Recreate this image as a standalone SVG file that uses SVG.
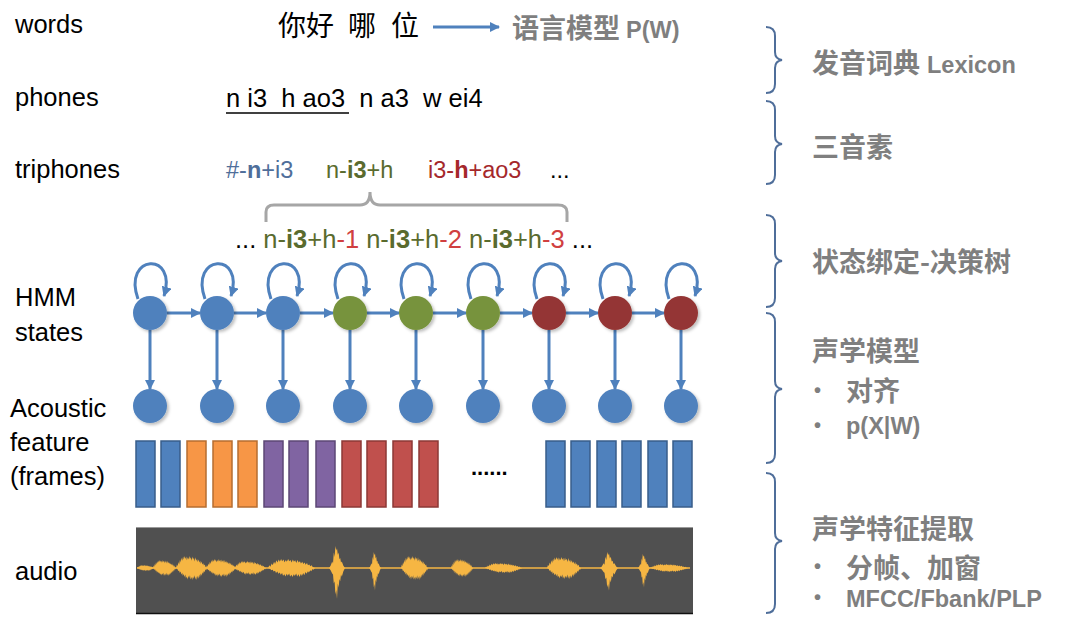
<svg xmlns="http://www.w3.org/2000/svg" width="1080" height="626" viewBox="0 0 1080 626">
<style>
.lbl{font-family:"Liberation Sans",Arial,sans-serif;font-size:25.5px;fill:#000}
.cjk{font-family:"Noto Sans CJK SC","Liberation Sans",sans-serif}
.rt{font-family:"Noto Sans CJK SC","Liberation Sans",sans-serif;font-size:27px;font-weight:bold;fill:#7f7f7f}
.rs{font-family:"Liberation Sans",Arial,sans-serif;font-size:23.5px;font-weight:bold;fill:#7f7f7f}
.bul{font-family:"Liberation Sans",Arial,sans-serif;font-size:20px;font-weight:bold;fill:#7f7f7f}
.arr{stroke:#4f81bd;stroke-width:3;fill:none;marker-end:url(#ah)}
.brace{stroke:#4f6e9a;stroke-width:2;fill:none}
.fb{fill:#4f81bd;stroke:#385d8a;stroke-width:1.5}
.fo{fill:#f79646;stroke:#b66d31;stroke-width:1.5}
.fp{fill:#8064a2;stroke:#5c4776;stroke-width:1.5}
.fr{fill:#c0504d;stroke:#8c3836;stroke-width:1.5}
.wav{fill:#f6b643}
.blue{fill:#4f6e9a}.green{fill:#5a6b2e}.red{fill:#a5282b}.red2{fill:#d04040}
</style>
<defs>
<marker id="ah" viewBox="0 0 10 10" refX="9" refY="5" markerWidth="3.4" markerHeight="3.4" orient="auto" markerUnits="strokeWidth">
<path d="M0,0 L10,5 L0,10 z" fill="#4f81bd"/>
</marker>
<filter id="sh" x="-30%" y="-30%" width="160%" height="160%">
<feDropShadow dx="2" dy="2" stdDeviation="1.5" flood-color="#000" flood-opacity="0.25"/>
</filter>
<path id="blobA" d="M0,0 L3,-0.3 5,-0.15 8,-0.5 10,-0.3 13,-0.7 15,-0.45 18,-0.85 20,-0.6 23,-0.95 25,-0.7 28,-1 30,-0.75 33,-0.95 35,-0.65 38,-0.9 40,-0.7 43,-1 45,-0.75 48,-0.9 50,-0.6 53,-0.95 55,-0.7 58,-0.85 60,-0.55 63,-0.9 65,-0.6 68,-0.75 70,-0.5 73,-0.7 75,-0.45 78,-0.6 80,-0.35 83,-0.55 85,-0.3 88,-0.4 90,-0.2 93,-0.3 95,-0.1 100,0 97,0.2 95,0.1 92,0.35 90,0.25 87,0.5 85,0.35 82,0.65 80,0.45 77,0.8 75,0.55 72,0.9 70,0.65 67,1 65,0.7 62,0.95 60,0.6 57,0.9 55,0.7 52,1 50,0.75 47,0.95 45,0.6 42,0.85 40,0.65 37,0.95 35,0.7 32,0.85 30,0.55 27,0.75 25,0.5 22,0.65 20,0.4 17,0.55 15,0.3 12,0.4 10,0.2 7,0.25 5,0.1 Z"/>
<path id="spikeB" d="M0,0 L10,-0.1 20,-0.3 25,-0.2 30,-0.7 35,-0.5 40,-1 45,-0.8 50,-0.9 55,-0.6 60,-0.7 65,-0.4 70,-0.45 75,-0.25 80,-0.3 90,-0.1 100,0 90,0.15 80,0.4 75,0.3 70,0.6 65,0.5 60,0.9 55,0.7 50,1.4 45,1 40,1.2 35,0.6 30,0.7 25,0.3 20,0.25 10,0.1 Z"/>
</defs>
<rect width="1080" height="626" fill="#fff"/>

<g id="left-labels">
<text class="lbl" x="15" y="33">words</text>
<text class="lbl" x="15" y="106">phones</text>
<text class="lbl" x="15" y="178">triphones</text>
<text class="lbl" x="15" y="306">HMM</text>
<text class="lbl" x="15" y="341">states</text>
<text class="lbl" x="10" y="417">Acoustic</text>
<text class="lbl" x="10" y="451">feature</text>
<text class="lbl" x="10" y="485">(frames)</text>
<text class="lbl" x="15" y="580">audio</text>
</g>

<g id="words">
<text class="cjk" x="278" y="36" font-size="28" fill="#000">你好 <tspan x="348">哪</tspan><tspan x="391">位</tspan></text>
<text class="rt" x="512" y="38" font-size="28">语言模型<tspan class="rs" font-size="24" dx="6">P(W)</tspan></text>
</g>

<g id="phones">
<text class="lbl" x="226" y="107" font-size="23.5" xml:space="preserve">n i3  h ao3  n a3  w ei4</text>
<line x1="226" y1="113" x2="349" y2="113" stroke="#000" stroke-width="1.5"/>
</g>

<g id="triphones" font-family="Liberation Sans,Arial,sans-serif" font-size="23.5">
<text x="226" y="178" class="blue">#-<tspan font-weight="bold">n</tspan>+i3</text>
<text x="326" y="178" class="green">n-<tspan font-weight="bold">i3</tspan>+h</text>
<text x="428" y="178" class="red">i3-<tspan font-weight="bold">h</tspan>+ao3</text>
<text x="550" y="178" fill="#000">...</text>
</g>

<g id="state-brace">
<path d="M266,222 L266,212 Q266,205 274,205 L360,205 Q370,205 370,192 Q370,205 380,205 L558,205 Q567,205 567,212 L567,222" stroke="#a6a6a6" stroke-width="3" fill="none"/>
</g>

<g id="tied-states" font-family="Liberation Sans,Arial,sans-serif" font-size="25.5">
<text x="235" y="248" fill="#000">... <tspan class="green">n-<tspan font-weight="bold">i3</tspan>+h</tspan><tspan class="red2">-1</tspan> <tspan class="green">n-<tspan font-weight="bold">i3</tspan>+h</tspan><tspan class="red2">-2</tspan> <tspan class="green">n-<tspan font-weight="bold">i3</tspan>+h</tspan><tspan class="red2">-3</tspan> ...</text>
</g>

<g id="connectors">
<path class="arr" d="M433,27 L499,27" stroke-width="2.5"/>
<path class="arr" d="M138,299 C122,254 178,251 164,296"/>
<path class="arr" d="M205,299 C189,254 245,251 231,296"/>
<path class="arr" d="M271,299 C255,254 311,251 297,296"/>
<path class="arr" d="M338,299 C322,254 378,251 364,296"/>
<path class="arr" d="M404,299 C388,254 444,251 430,296"/>
<path class="arr" d="M471,299 C455,254 511,251 497,296"/>
<path class="arr" d="M537,299 C521,254 577,251 563,296"/>
<path class="arr" d="M603,299 C587,254 643,251 629,296"/>
<path class="arr" d="M669,299 C653,254 709,251 695,296"/>
<path class="arr" d="M167,313 L200,313"/>
<path class="arr" d="M234,313 L266,313"/>
<path class="arr" d="M300,313 L333,313"/>
<path class="arr" d="M367,313 L399,313"/>
<path class="arr" d="M433,313 L466,313"/>
<path class="arr" d="M500,313 L532,313"/>
<path class="arr" d="M566,313 L598,313"/>
<path class="arr" d="M632,313 L664,313"/>
<path class="arr" d="M150,330 L150,389"/>
<path class="arr" d="M217,330 L217,389"/>
<path class="arr" d="M283,330 L283,389"/>
<path class="arr" d="M350,330 L350,389"/>
<path class="arr" d="M416,330 L416,389"/>
<path class="arr" d="M483,330 L483,389"/>
<path class="arr" d="M549,330 L549,389"/>
<path class="arr" d="M615,330 L615,389"/>
<path class="arr" d="M681,330 L681,389"/>
</g>

<g id="hmm-states" filter="url(#sh)">
<circle id="s1" cx="150" cy="313" r="17" fill="#4f81bd"/>
<circle id="s2" cx="217" cy="313" r="17" fill="#4f81bd"/>
<circle id="s3" cx="283" cy="313" r="17" fill="#4f81bd"/>
<circle id="s4" cx="350" cy="313" r="17" fill="#77933c"/>
<circle id="s5" cx="416" cy="313" r="17" fill="#77933c"/>
<circle id="s6" cx="483" cy="313" r="17" fill="#77933c"/>
<circle id="s7" cx="549" cy="313" r="17" fill="#943634"/>
<circle id="s8" cx="615" cy="313" r="17" fill="#943634"/>
<circle id="s9" cx="681" cy="313" r="17" fill="#943634"/>
</g>

<g id="observations" filter="url(#sh)" fill="#4f81bd">
<circle cx="150" cy="406" r="17"/>
<circle cx="217" cy="406" r="17"/>
<circle cx="283" cy="406" r="17"/>
<circle cx="350" cy="406" r="17"/>
<circle cx="416" cy="406" r="17"/>
<circle cx="483" cy="406" r="17"/>
<circle cx="549" cy="406" r="17"/>
<circle cx="615" cy="406" r="17"/>
<circle cx="681" cy="406" r="17"/>
</g>

<g id="frames">
<rect class="fb" x="136" y="441" width="19" height="66"/>
<rect class="fb" x="161" y="441" width="19" height="66"/>
<rect class="fo" x="187" y="441" width="19" height="66"/>
<rect class="fo" x="213" y="441" width="19" height="66"/>
<rect class="fo" x="238" y="441" width="19" height="66"/>
<rect class="fp" x="264" y="441" width="19" height="66"/>
<rect class="fp" x="289" y="441" width="19" height="66"/>
<rect class="fp" x="316" y="441" width="19" height="66"/>
<rect class="fr" x="342" y="441" width="19" height="66"/>
<rect class="fr" x="367" y="441" width="19" height="66"/>
<rect class="fr" x="393" y="441" width="19" height="66"/>
<rect class="fr" x="419" y="441" width="19" height="66"/>
<text x="471" y="475" font-family="Liberation Sans,Arial,sans-serif" font-size="22" font-weight="bold" fill="#000">......</text>
<rect class="fb" x="546" y="441" width="19" height="66"/>
<rect class="fb" x="571" y="441" width="19" height="66"/>
<rect class="fb" x="597" y="441" width="19" height="66"/>
<rect class="fb" x="622" y="441" width="19" height="66"/>
<rect class="fb" x="648" y="441" width="19" height="66"/>
<rect class="fb" x="673" y="441" width="19" height="66"/>
</g>

<g id="audio">
<rect x="136" y="527" width="557" height="87" fill="#505050"/>
<line x1="136" y1="527.5" x2="693" y2="527.5" stroke="#9a9a9a" stroke-width="1"/>
<line x1="136" y1="613.5" x2="693" y2="613.5" stroke="#111" stroke-width="1.5"/>
<line x1="137" y1="568" x2="690" y2="568" stroke="#f6b643" stroke-width="1.5"/>
<g class="wav">
<use href="#blobA" transform="translate(137,568) scale(0.17,3)"/>
<use href="#blobA" transform="translate(153,568) scale(0.23,8)"/>
<use href="#blobA" transform="translate(176,568) scale(0.31,12)"/>
<use href="#blobA" transform="translate(206,568) scale(0.3,9)"/>
<use href="#blobA" transform="translate(234,568) scale(0.32,7)"/>
<use href="#blobA" transform="translate(268,568) scale(0.47,9)"/>
<use href="#spikeB" transform="translate(329,568) scale(0.16,22)"/>
<use href="#spikeB" transform="translate(369,568) scale(0.12,16)"/>
<use href="#blobA" transform="translate(401,568) scale(0.27,12)"/>
<use href="#blobA" transform="translate(451,568) scale(0.22,9)"/>
<use href="#blobA" transform="translate(485,568) scale(0.37,5)"/>
<use href="#blobA" transform="translate(547,568) scale(0.34,11)"/>
<use href="#spikeB" transform="translate(600,568) scale(0.18,16)"/>
<use href="#spikeB" transform="translate(638,568) scale(0.12,14)"/>
<use href="#blobA" transform="translate(650,568) scale(0.38,4)"/>
</g>
</g>

<g id="right-braces">
<path class="brace" d="M766,27 Q775,27 775,36 L775,52 Q775,59 782,60 Q775,61 775,68 L775,84 Q775,93 766,93"/>
<path class="brace" d="M766,101 Q775,101 775,110 L775,136 Q775,143 782,144 Q775,145 775,152 L775,175 Q775,184 766,184"/>
<path class="brace" d="M766,215 Q775,215 775,224 L775,253 Q775,260 782,261 Q775,262 775,269 L775,298 Q775,307 766,307"/>
<path class="brace" d="M766,313 Q775,313 775,322 L775,381 Q775,388 782,389 Q775,390 775,397 L775,454 Q775,463 766,463"/>
<path class="brace" d="M766,473 Q775,473 775,482 L775,533 Q775,540 782,541 Q775,542 775,549 L775,604 Q775,613 766,613"/>
</g>

<g id="right-labels">
<text class="rt" x="812" y="73">发音词典<tspan class="rs" dx="7">Lexicon</tspan></text>
<text class="rt" x="812" y="157">三音素</text>
<text class="rt" x="812" y="272">状态绑定-决策树</text>
<text class="rt" x="812" y="361">声学模型</text>
<text class="bul" x="814" y="397">•</text>
<text class="rt" x="846" y="401">对齐</text>
<text class="bul" x="814" y="432">•</text>
<text class="rs" x="846" y="434">p(X|W)</text>
<text class="rt" x="812" y="539">声学特征提取</text>
<text class="bul" x="814" y="573">•</text>
<text class="rt" x="846" y="578">分帧、加窗</text>
<text class="bul" x="814" y="604">•</text>
<text class="rs" x="846" y="607">MFCC/Fbank/PLP</text>
</g>
</svg>
